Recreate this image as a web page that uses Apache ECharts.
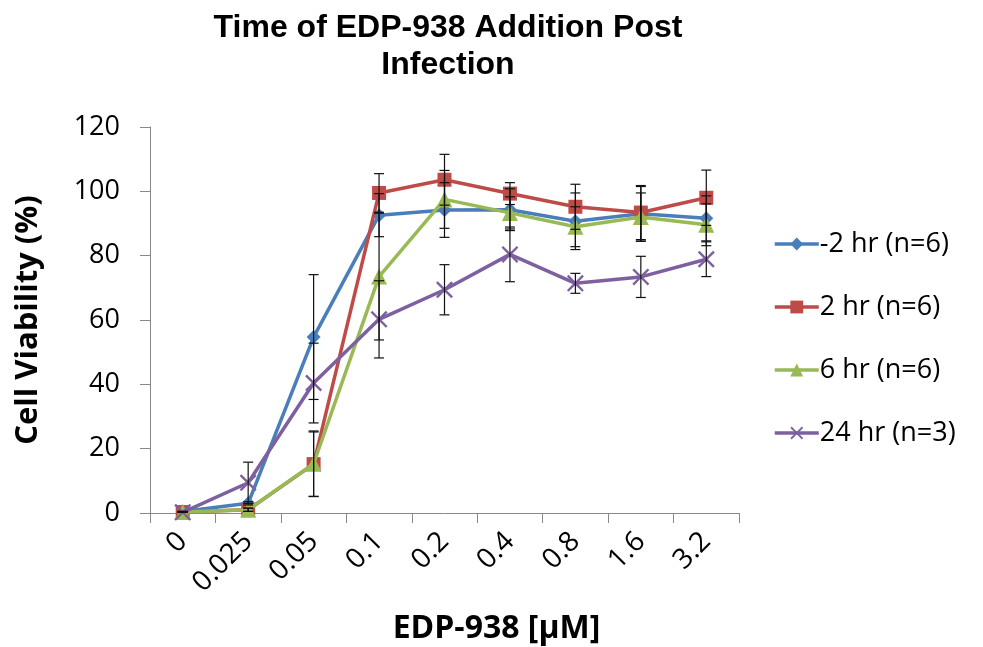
<!DOCTYPE html>
<html>
<head>
<meta charset="utf-8">
<script src="https://cdn.jsdelivr.net/npm/echarts@6/dist/echarts.min.js"></script>
<style>
  html, body { margin: 0; padding: 0; background: #fff; }
  #chart { width: 983px; height: 647px; }
</style>
</head>
<body>
<div id="chart"></div>
<script>
// concentrations (uM)
const doses = ['0', '0.025', '0.05', '0.1', '0.2', '0.4', '0.8', '1.6', '3.2'];

// mean cell viability (%)
const minus2hr = [0.5, 3, 54.7, 92.6, 94.2, 94.3, 90.7, 93, 91.6];
const plus2hr = [0.3, 1, 15.2, 99.5, 103.6, 99.3, 95.2, 93.4, 98];
const plus6hr = [0.3, 1, 15.3, 73.5, 97.5, 93.3, 89, 92, 89.6];
const plus24hr = [0.2, 9.4, 40.4, 60.2, 69.4, 80.4, 71.4, 73.4, 78.9];

// error bar half-widths
const minus2Err = [0, 0.5, 19.4, 6.7, 8.5, 6.5, 8.8, 8.5, 7];
const plus2Err = [0, 0.5, 10, 6, 7.9, 3.4, 7, 8.4, 8.6];
const plus6Err = [0, 0.5, 10.2, 19.7, 9, 5, 6.2, 7.5, 6.5];
const plus24Err = [0, 6.4, 12.4, 12, 7.8, 8.5, 3.1, 6.4, 5.4];

const names = ['-2 hr (n=6)', '2 hr (n=6)', '6 hr (n=6)', '24 hr (n=3)'];
const colors = ['#4a7ebb', '#be4b48', '#98b954', '#7d60a0'];

const crossPath = 'path://M0,1 L1,0 L5,4 L9,0 L10,1 L6,5 L10,9 L9,10 L5,6 L1,10 L0,9 L4,5 Z';

const means = [minus2hr, plus2hr, plus6hr, plus24hr];
const errs = [minus2Err, plus2Err, plus6Err, plus24Err];
const symbols = ['diamond', 'rect', 'triangle', crossPath];
const symbolSizes = [14, 14, 16, 17];

/** Build error bar data [index, low, high] for one series
 * @param {number[]} m
 * @param {number[]} e
 */
function errData(m, e) {
  return m.map((v, i) => [i, v - e[i], v + e[i]]);
}

function renderErr(params, api) {
  const i = api.value(0);
  const lo = api.coord([i, api.value(1)]);
  const hi = api.coord([i, api.value(2)]);
  const cap = 5;
  const style = { stroke: '#111', lineWidth: 1.2, fill: null };
  return {
    type: 'group',
    children: [
      { type: 'line', shape: { x1: hi[0], y1: hi[1], x2: lo[0], y2: lo[1] }, style },
      { type: 'line', shape: { x1: hi[0] - cap, y1: hi[1], x2: hi[0] + cap, y2: hi[1] }, style },
      { type: 'line', shape: { x1: lo[0] - cap, y1: lo[1], x2: lo[0] + cap, y2: lo[1] }, style }
    ]
  };
}

const series = [];
means.forEach((m, k) => {
  series.push({
    name: names[k],
    type: 'line',
    data: m,
    symbol: symbols[k],
    symbolSize: symbolSizes[k],
    showAllSymbol: true,
    lineStyle: { color: colors[k], width: 3.5 },
    itemStyle: { color: colors[k] },
    z: 3 + k
  });
});
errs.forEach((e, k) => {
  series.push({
    type: 'custom',
    data: errData(means[k], e),
    renderItem: renderErr,
    z: 10,
    silent: true
  });
});

const font = "'Open Sans', 'Noto Sans', sans-serif";

const chart = echarts.init(document.getElementById('chart'));
chart.setOption({
  animation: false,
  backgroundColor: '#fff',
  title: {
    text: 'Time of EDP-938 Addition Post\nInfection',
    left: 443,
    textAlign: 'center',
    top: 5,
    textStyle: {
      fontFamily: "'Liberation Sans', Arial, sans-serif",
      fontWeight: 'bold',
      fontSize: 32,
      lineHeight: 37,
      color: '#000'
    }
  },
  legend: {
    orient: 'vertical',
    left: 768,
    top: 224,
    itemGap: 33,
    itemWidth: 44,
    itemHeight: 16,
    data: names,
    lineStyle: { width: 3.5 },
    textStyle: { fontFamily: font, fontSize: 27, lineHeight: 30, color: '#000', padding: [0, 0, 0, -4] }
  },
  grid: { left: 150, right: 244, top: 127, bottom: 134, containLabel: false, outerBoundsMode: 'none' },
  xAxis: {
    type: 'category',
    data: doses,
    boundaryGap: true,
    name: 'EDP-938 [\u03bcM]',
    nameLocation: 'middle',
    nameGap: 100,
    nameTextStyle: { fontFamily: font, fontWeight: 'bold', fontSize: 32, color: '#000', padding: [0, 0, 0, 104] },
    axisLine: { lineStyle: { color: '#888', width: 1 } },
    axisTick: { show: true, alignWithLabel: false, length: 10, lineStyle: { color: '#888' } },
    axisLabel: { rotate: 45, fontFamily: font, fontSize: 28, color: '#000', margin: 24, interval: 0 },
    splitLine: { show: false }
  },
  yAxis: {
    type: 'value',
    min: 0,
    max: 120,
    interval: 20,
    name: 'Cell Viability (%)',
    nameLocation: 'middle',
    nameGap: 106,
    nameRotate: 90,
    nameTextStyle: { fontFamily: font, fontWeight: 'bold', fontSize: 31, color: '#000' },
    axisLine: { show: true, lineStyle: { color: '#888', width: 1 } },
    axisTick: { show: true, length: 10, lineStyle: { color: '#888' } },
    axisLabel: { fontFamily: font, fontSize: 27, color: '#000', margin: 30 },
    splitLine: { show: false }
  },
  series
});
</script>
</body>
</html>
